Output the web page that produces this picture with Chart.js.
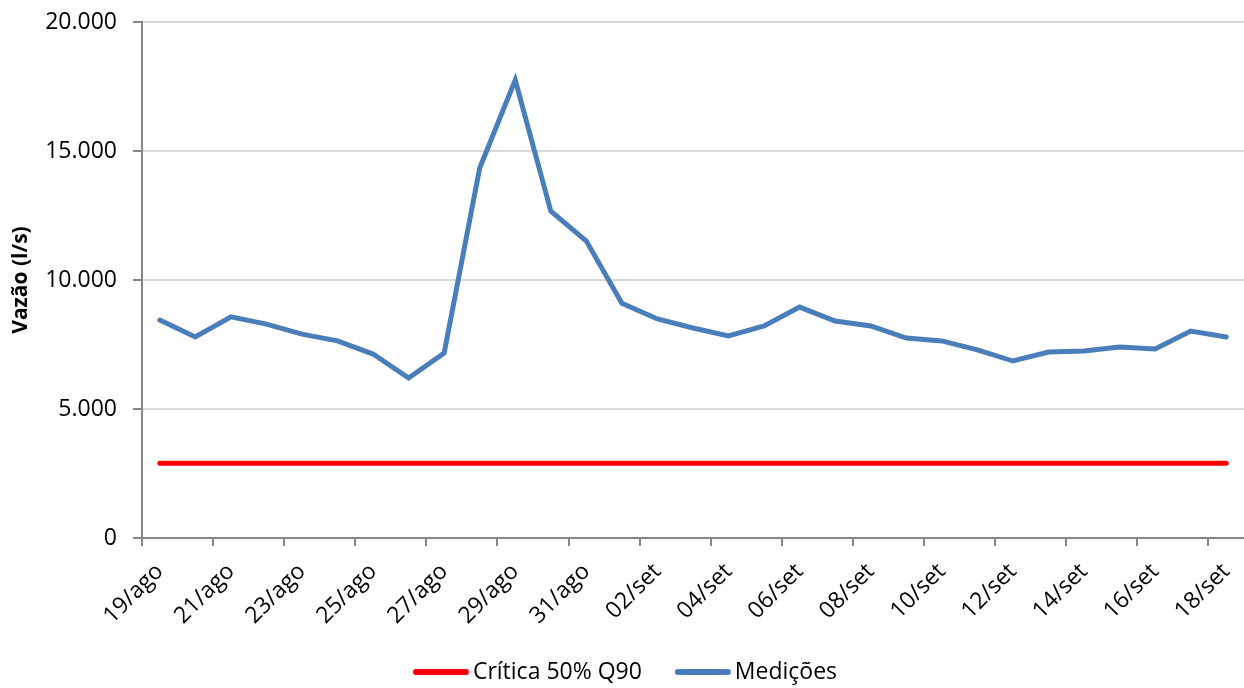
<!DOCTYPE html>
<html>
<head>
<meta charset="utf-8">
<script src="https://cdn.jsdelivr.net/npm/chart.js@4/dist/chart.umd.min.js"></script>
<style>
  html, body { margin: 0; padding: 0; background: #fff; }
  #c { display: block; }
</style>
</head>
<body>
<canvas id="c" width="1244" height="688"></canvas>
<script>
var dias = ['19/ago','20/ago','21/ago','22/ago','23/ago','24/ago','25/ago','26/ago','27/ago','28/ago',
  '29/ago','30/ago','31/ago','01/set','02/set','03/set','04/set','05/set','06/set','07/set',
  '08/set','09/set','10/set','11/set','12/set','13/set','14/set','15/set','16/set','17/set','18/set'];

var medicoes = [8450, 7790, 8570, 8290, 7900, 7640, 7130, 6200, 7170, 14340,
  17750, 12670, 11510, 9100, 8490, 8140, 7830, 8220, 8950, 8410,
  8220, 7750, 7640, 7290, 6860, 7210, 7250, 7400, 7330, 8020, 7790];

var critica = dias.map(function() { return 2900; });

var fonte = "'Open Sans', 'Noto Sans', sans-serif";
var cinzaEixo = '#868686';

function fmt(v) {
  return String(v).replace(/\B(?=(\d{3})+(?!\d))/g, '.');
}

// legenda desenhada à mão, linha colada ao texto como no Excel
var legendaExcel = {
  id: 'legendaExcel',
  afterDraw: function(chart) {
    var ctx = chart.ctx;
    var sets = chart.data.datasets;
    var linha = 56, gapTxt = 4, gapItem = 33, yMeio = 672;
    ctx.save();
    ctx.font = '23px ' + fonte;
    var larg = 0;
    sets.forEach(function(ds, i) {
      larg += linha + gapTxt + ctx.measureText(ds.label).width;
      if (i < sets.length - 1) larg += gapItem;
    });
    var x = (chart.width - larg) / 2 + 3;
    sets.forEach(function(ds) {
      ctx.strokeStyle = ds.borderColor;
      ctx.lineWidth = 6;
      ctx.lineCap = 'round';
      ctx.beginPath();
      ctx.moveTo(x + 3, yMeio);
      ctx.lineTo(x + linha - 3, yMeio);
      ctx.stroke();
      x += linha + gapTxt;
      ctx.fillStyle = '#000';
      ctx.textBaseline = 'middle';
      ctx.textAlign = 'left';
      ctx.fillText(ds.label, x, yMeio);
      x += ctx.measureText(ds.label).width + gapItem;
    });
    ctx.restore();
  }
};

new Chart(document.getElementById('c'), {
  type: 'line',
  data: {
    labels: dias,
    datasets: [
      {
        label: 'Crítica 50% Q90',
        data: critica,
        borderColor: '#ff0000',
        backgroundColor: '#ff0000',
        borderWidth: 5,
        borderCapStyle: 'round',
        pointRadius: 0,
        tension: 0
      },
      {
        label: 'Medições',
        data: medicoes,
        borderColor: '#4a7ebb',
        backgroundColor: '#4a7ebb',
        borderWidth: 5,
        borderCapStyle: 'round',
        pointRadius: 0,
        tension: 0
      }
    ]
  },
  plugins: [legendaExcel],
  options: {
    responsive: false,
    animation: false,
    layout: { padding: { top: 22, left: 0, right: 0, bottom: 38 } },
    plugins: {
      tooltip: { enabled: false },
      legend: { display: false }
    },
    scales: {
      x: {
        offset: true,
        afterFit: function(s) {
          s.height = 112;
          s.paddingLeft = 0;
          s.paddingRight = 0;
        },
        border: { color: cinzaEixo, width: 2 },
        grid: {
          offset: true,
          drawOnChartArea: false,
          tickLength: 8,
          lineWidth: 2,
          color: function(ctx) { return ctx.index % 2 === 0 ? cinzaEixo : 'rgba(0,0,0,0)'; }
        },
        ticks: {
          autoSkip: false,
          minRotation: 45,
          maxRotation: 45,
          padding: 12,
          color: '#000',
          font: { family: fonte, size: 23 },
          callback: function(v, i) { return i % 2 === 0 ? dias[i] : ''; }
        }
      },
      y: {
        min: 0,
        max: 20000,
        afterFit: function(s) {
          s.width = 142;
          s.paddingTop = 0;
          s.paddingBottom = 0;
        },
        border: { color: cinzaEixo, width: 2 },
        grid: {
          color: '#d9d9d9',
          lineWidth: 2,
          tickColor: cinzaEixo,
          tickLength: 9
        },
        ticks: {
          stepSize: 5000,
          padding: 16,
          color: '#000',
          font: { family: fonte, size: 23 },
          callback: function(v) { return fmt(v); }
        },
        title: {
          display: true,
          text: 'Vazão (l/s)',
          color: '#000',
          padding: { top: 8, bottom: 0 },
          font: { family: fonte, size: 21, weight: 'bold' }
        }
      }
    }
  }
});
</script>
</body>
</html>
